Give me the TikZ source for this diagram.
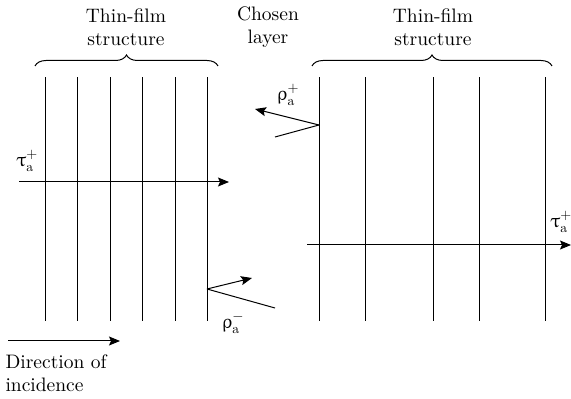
\documentclass[tikz,border=0pt]{standalone}
\usepackage{fontspec}
\setmainfont{lmroman10}[Extension=.otf,UprightFont=*-regular]
\usepackage{upgreek}
\usetikzlibrary{arrows.meta,decorations.pathreplacing}

\begin{document}
\begin{tikzpicture}[x=1pt,y=1pt,line width=1pt,font=\fontsize{19.5}{23.5}\selectfont,
 >={Stealth[length=11pt,width=9pt,inset=2pt]},
 TFbrace/.style={decorate,decoration={brace,amplitude=11pt}},
 TFlab/.style={align=center,inner sep=0pt},
 TFsym/.style={inner sep=0pt}]
\useasboundingbox (0,0) rectangle (571,399);
\foreach \x in {45,77.5,110,142.5,175,207}{\draw (\x,78)--(\x,322);}
\foreach \x in {319,365.5,433,479,545}{\draw (\x,78)--(\x,322);}
\draw[TFbrace] (35,333)--(218,333);
\draw[TFbrace] (312,333)--(552,333);
\node[TFlab] (tfL) at (126,372) {Thin-film\\structure};
\node[TFlab] (chosen) at (268,372) {Chosen\\layer};
\node[TFlab] (tfR) at (433,372) {Thin-film\\structure};
% transmitted
\coordinate (tauLa) at (19,217);
\coordinate (tauLb) at (229,217);
\draw[->] (tauLa)--(tauLb);
\node[TFsym] (tauL) at (27,238) {$\uptau_{\mathrm{a}}^{+}$};
\coordinate (tauRa) at (307,154);
\coordinate (tauRb) at (571,154);
\draw[->] (tauRa)--(tauRb);
\node[TFsym] (tauR) at (561,177) {$\uptau_{\mathrm{a}}^{+}$};
% reflected
\coordinate (rhoPv) at (319,274);
\coordinate (rhoPa) at (275,262);
\coordinate (rhoPb) at (255,290);
\draw (rhoPa)--(rhoPv);
\draw[->] (rhoPv)--(rhoPb);
\node[TFsym] (rhoP) at (288,304) {$\uprho_{\mathrm{a}}^{+}$};
\coordinate (rhoMv) at (207,110);
\coordinate (rhoMa) at (275,91);
\coordinate (rhoMb) at (252,121);
\draw (rhoMa)--(rhoMv);
\draw[->] (rhoMv)--(rhoMb);
\node[TFsym] (rhoM) at (233,76) {$\uprho_{\mathrm{a}}^{-}$};
% incidence
\coordinate (incA) at (8,58);
\coordinate (incB) at (120,58);
\draw[->] (incA)--(incB);
\node[TFlab,align=left,anchor=west] (inc) at (5,26) {Direction of\\incidence};
\end{tikzpicture}
\end{document}
